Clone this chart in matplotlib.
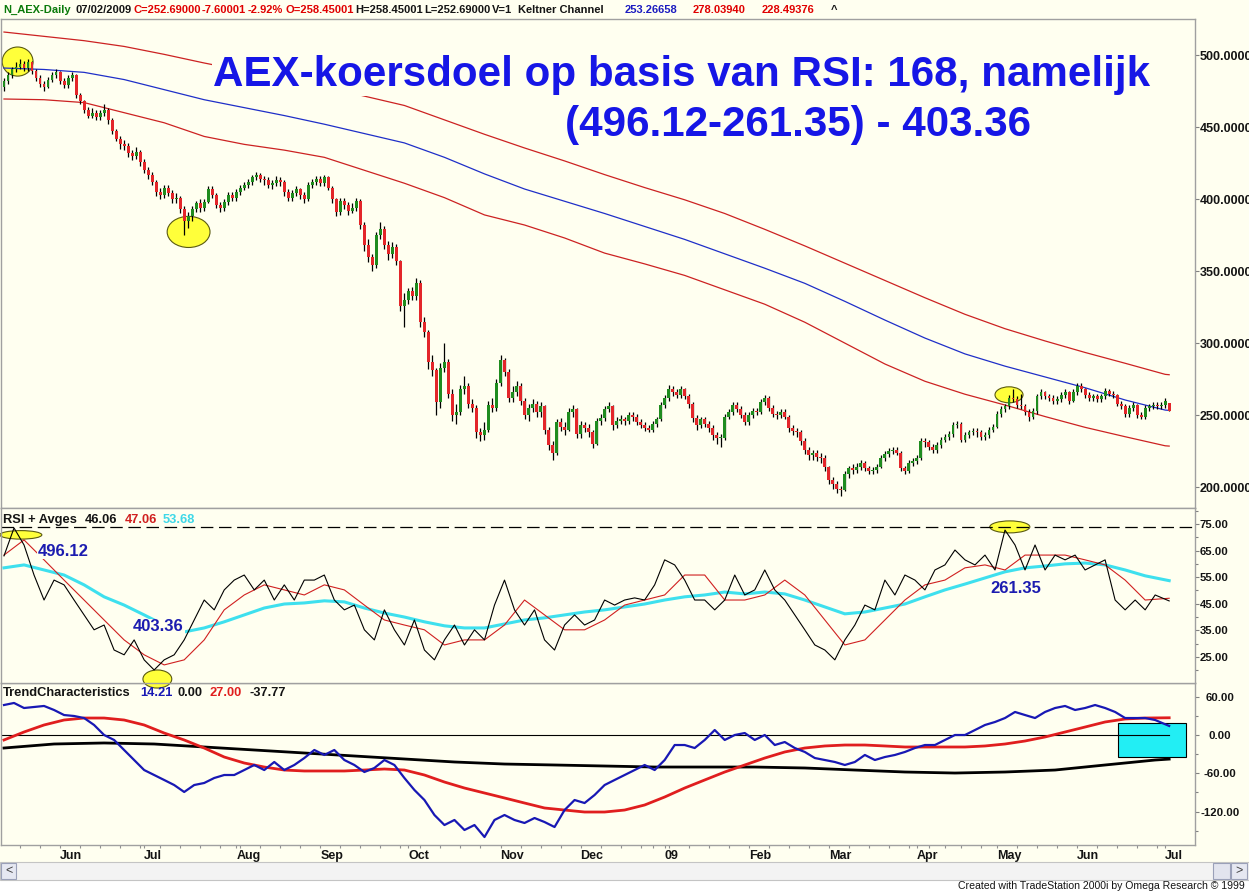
import numpy as np
import pandas as pd
import matplotlib
matplotlib.use("Agg")
import matplotlib.pyplot as plt
from matplotlib.patches import Ellipse, Rectangle

ARIAL = ["Liberation Sans", "DejaVu Sans"]
plt.rcParams["font.family"] = ARIAL
plt.rcParams["font.weight"] = "bold"

# ---------------- data ----------------
holidays = ["2008-12-25", "2008-12-26", "2009-01-01", "2009-04-10", "2009-04-13", "2009-05-01"]
month_labels = ["Jun", "Jul", "Aug", "Sep", "Oct", "Nov", "Dec", "09", "Feb", "Mar", "Apr", "May", "Jun", "Jul"]

opens = [478,482,486,490,492,494,491,495,489,484,
480,478,483,486,488,482,479,484,486,472,
468,462,458,460,457,460,462,455,447,442,
438,437,432,430,433,426,420,417,412,405,
403,408,404,400,401,393,385,388,393,397,
394,398,407,403,396,394,398,403,401,405,
408,410,412,415,417,414,413,410,411,413,
412,405,401,404,407,403,400,410,412,414,
411,415,408,400,391,399,396,392,394,399,
382,368,360,354,375,379,368,362,367,357,
326,330,336,333,342,315,308,287,281,259,
283,287,265,250,252,268,270,258,255,238,
236,240,257,255,272,288,280,262,266,270,
260,250,255,258,252,256,240,229,224,245,
242,240,252,254,237,243,241,238,230,246,
248,254,256,243,246,247,246,250,249,245,
243,241,240,244,247,257,262,268,266,264,
268,263,258,248,243,247,244,241,236,234,
234,249,252,257,254,250,245,250,253,252,
259,262,255,251,250,252,249,241,239,238,
232,226,222,224,221,220,214,205,202,199,
198,209,213,212,214,217,213,211,212,214,
220,223,225,226,224,213,211,217,218,220,
232,231,228,226,229,233,235,237,243,244,
233,236,238,239,238,235,236,240,242,251,
254,256,262,261,257,256,252,249,253,263,
266,263,262,260,261,264,266,260,266,270,
268,264,262,263,261,263,267,265,264,258,
256,251,255,257,250,249,255,256,257,256,
257,258.45]

highs = [484,488,492,495,497,496,497,496,490,486,
482,485,488,490,489,484,486,488,487,474,
469,464,463,462,462,466,463,456,449,444,
441,439,434,436,434,428,422,419,413,408,
410,410,406,404,402,395,391,395,399,400,
400,409,409,404,398,400,405,405,407,410,
412,414,417,419,418,416,415,413,416,415,
413,407,406,409,408,405,412,414,416,416,
417,416,409,401,401,401,398,397,401,400,
384,372,362,377,384,381,371,370,369,358,
335,338,339,345,344,318,309,292,283,286,
300,289,268,258,271,277,272,261,257,241,
245,260,262,275,292,290,282,270,274,272,
262,258,261,260,259,257,242,232,247,248,
245,255,257,255,246,245,244,240,248,251,
256,259,257,249,250,249,252,252,251,247,
245,243,246,249,259,264,271,270,268,270,
269,265,259,250,249,249,246,243,238,237,
251,254,259,259,256,252,252,255,255,261,
264,263,257,253,254,254,250,243,241,240,
234,228,226,226,224,222,215,207,204,201,
211,215,216,217,219,218,215,214,216,222,
225,227,228,228,225,215,219,220,222,234,
234,233,230,231,235,237,239,245,246,245,
238,240,241,241,240,238,242,244,253,256,
258,264,268,263,265,258,254,255,265,268,
267,265,264,263,266,268,267,268,272,272,
269,266,265,265,265,269,268,267,265,260,
258,257,259,258,252,257,258,259,259,259,
262,258.45]

lows = [475,480,484,488,490,489,489,487,482,478,
475,477,481,484,480,477,477,482,470,466,
460,456,456,455,455,458,452,445,440,435,
434,429,427,428,423,418,414,410,402,400,
401,402,397,397,390,375,380,385,391,391,
392,397,401,394,391,392,396,399,399,403,
406,408,410,413,412,410,408,407,409,409,
402,399,399,402,400,397,399,408,410,409,
409,406,397,388,389,393,389,390,392,379,
364,356,350,352,372,365,358,359,354,322,
311,327,330,330,311,304,282,277,250,255,
280,262,246,244,250,265,255,252,234,232,
233,238,252,253,270,277,259,259,263,257,
247,246,252,249,249,237,226,219,222,239,
236,239,249,234,234,238,235,227,229,243,
246,252,240,241,244,243,244,246,243,241,
239,238,238,242,246,255,260,263,262,262,
261,255,245,240,241,242,238,233,230,228,
233,247,250,252,248,243,243,248,250,251,
257,253,249,247,248,247,238,236,235,229,
223,219,219,218,217,211,202,199,196,194,
197,206,209,210,212,211,209,209,210,213,
218,221,223,222,211,209,210,215,216,219,
228,226,224,224,227,231,233,235,241,231,
231,234,236,235,233,233,234,238,241,249,
252,254,259,255,254,250,246,247,251,261,
261,260,258,258,259,262,258,259,264,266,
262,260,260,259,259,261,263,262,256,254,
249,249,253,248,247,247,253,254,254,254,
255,252.69]

closes = [482,486,490,492,494,491,495,489,484,480,
478,483,486,488,482,479,484,486,472,468,
462,458,460,457,460,462,455,447,442,438,
437,432,430,433,426,420,417,412,405,403,
408,404,400,401,393,385,388,393,397,394,
398,407,403,396,394,398,403,401,405,408,
410,412,415,417,414,413,410,411,413,412,
405,401,404,407,403,400,410,412,414,411,
415,408,400,391,399,396,392,394,399,382,
368,360,354,375,379,368,362,367,357,326,
330,336,333,342,315,308,287,281,259,283,
287,265,250,252,268,270,258,255,238,236,
240,257,255,272,288,280,262,266,270,260,
250,255,258,252,256,240,229,224,245,242,
240,252,254,237,243,241,238,230,246,248,
254,256,243,246,247,246,250,249,245,243,
241,240,244,247,257,262,268,266,264,268,
263,258,248,243,247,244,241,236,234,234,
249,252,257,254,250,245,250,253,252,259,
262,255,251,250,252,249,241,239,238,232,
226,222,224,221,220,214,205,202,199,198,
209,213,212,214,217,213,211,212,214,220,
223,225,226,224,213,211,217,218,220,232,
231,228,226,229,233,235,237,243,244,233,
236,238,239,238,235,236,240,242,251,254,
256,262,261,257,256,252,249,253,263,266,
263,262,260,261,264,266,260,266,270,268,
264,262,263,261,263,267,265,264,258,256,
251,255,257,250,249,255,256,257,256,257,
260,252.69]

# Keltner channel, sampled every 10 bars (+ last bar)
kc_days = list(range(0, 300, 10)) + [291]
kc_mid = [491.0,490.0,488.0,483.0,476.0,469.0,463.5,458.0,452.0,445.5,439.0,429.0,417.5,407.0,398.5,
          390.0,381.0,372.0,362.0,352.0,341.5,329.0,316.0,303.5,292.5,284.0,276.5,269.0,260.5,253.5,253.27]
kc_up = [516.0,513.0,510.0,506.0,500.5,494.5,489.0,483.5,478.0,471.5,465.0,455.0,445.0,435.5,426.5,
         417.0,408.0,399.5,390.0,379.0,367.5,355.5,343.5,331.5,320.0,310.0,301.5,293.5,286.0,278.3,278.04]
kc_lo = [469.5,469.0,467.0,460.0,453.0,443.5,438.0,434.0,429.0,420.0,411.0,401.0,389.0,382.0,373.0,
         362.5,355.0,347.0,337.0,327.0,314.5,300.0,285.5,273.5,264.5,257.0,249.0,241.5,235.0,228.7,228.49]

# RSI (every 2.5 bars) and its averages (every 5 bars)
rsi_vals = [63,73.5,67.1,55.8,46.4,53.9,52.1,46.4,40.8,35.2,
37.0,27.6,25.8,31.4,23.9,20.1,23.9,25.8,31.4,38.9,
46.4,42.7,50.2,53.9,55.8,50.2,53.9,46.4,52.1,46.4,
53.9,53.9,55.8,46.4,42.7,44.5,35.2,31.4,42.7,35.2,
29.5,38.9,27.6,23.9,31.4,37.0,29.5,35.2,31.4,44.5,
53.9,42.7,37.0,42.7,31.4,27.6,37.0,40.8,37.0,38.9,
46.4,44.5,46.4,47.2,46.4,52.1,61.5,59.6,53.9,46.4,
46.4,42.7,46.4,55.8,48.3,50.2,57.7,50.2,46.4,40.8,
35.2,29.5,27.6,23.9,31.4,37.0,44.5,42.7,53.9,48.3,
55.8,53.9,50.2,57.7,59.6,65.2,61.5,59.6,63.3,57.7,
72.7,67.1,57.7,67.1,57.7,63.3,61.5,63.3,57.7,59.6,
61.5,46.4,42.7,46.4,42.7,48.3,46.06]
rsi_fast = [63.3,69.0,61.5,53.9,46.4,38.9,31.4,25.8,22.0,23.9,
31.4,42.7,48.3,52.1,50.2,48.3,52.1,50.2,44.5,38.9,
37.0,35.2,29.5,31.4,31.4,37.0,46.4,40.8,35.2,35.2,
38.9,44.5,46.4,48.3,55.8,55.8,46.4,46.4,48.3,53.9,
48.3,38.9,29.5,31.4,38.9,46.4,52.1,53.9,58.5,59.6,
57.7,63.3,63.3,63.3,61.5,59.6,53.9,46.4,47.06]
rsi_slow = [58.5,59.6,57.7,55.8,52.1,47.6,44.5,40.8,37.0,34.4,
35.9,38.2,40.8,43.4,44.9,45.3,46.1,45.7,43.4,41.5,
40.0,38.2,36.7,35.9,35.9,37.4,38.9,39.7,40.8,41.9,
42.7,43.8,44.9,46.4,47.6,48.3,49.4,48.7,49.4,48.7,
46.4,43.8,41.2,41.9,43.4,44.9,47.6,50.2,52.4,54.7,
57.0,58.5,59.2,60.0,60.3,59.6,57.7,55.5,53.68]
rsi_level = 73.8

# TrendCharacteristics
trend_blue = [47.0,50.2,42.3,43.9,45.5,39.2,31.3,29.8,26.6,15.7,
0.0,-7.8,-23.5,-39.2,-54.9,-62.7,-70.5,-78.4,-89.3,-78.4,
-75.2,-67.4,-62.7,-62.7,-54.9,-47.0,-54.9,-42.3,-54.9,-47.0,
-36.1,-23.5,-31.3,-23.5,-39.2,-47.0,-58.0,-51.7,-39.2,-47.0,
-67.4,-86.2,-101.9,-125.4,-141.1,-133.2,-148.9,-141.1,-159.9,-133.2,
-125.4,-133.2,-137.9,-130.1,-136.4,-144.2,-117.6,-101.9,-106.6,-94.0,
-78.4,-70.5,-62.7,-54.9,-47.0,-54.9,-39.2,-15.7,-15.7,-20.4,
-7.8,7.8,-7.8,0.0,3.1,-7.8,0.0,-15.7,-11.0,-20.4,
-26.6,-36.1,-39.2,-42.3,-47.0,-42.3,-31.3,-39.2,-34.5,-31.3,
-26.6,-20.4,-15.7,-15.7,-7.8,0.0,0.0,7.8,15.7,20.4,
26.6,36.1,31.3,26.6,36.1,42.3,45.5,39.2,42.3,47.0,
42.3,36.1,26.6,26.6,26.6,23.5,14.21]
trend_red = [-7.8,4.7,15.7,23.5,26.6,26.6,23.5,15.7,3.1,-7.8,
-20.4,-34.5,-43.9,-50.2,-54.9,-56.4,-56.4,-56.4,-54.9,-53.3,
-54.9,-62.7,-73.7,-83.1,-90.9,-98.7,-106.6,-114.4,-117.6,-120.7,
-120.7,-117.6,-109.7,-97.2,-83.1,-70.5,-58.0,-47.0,-36.1,-26.6,
-20.4,-17.2,-15.7,-15.7,-17.2,-18.8,-18.8,-18.8,-18.8,-17.2,
-14.1,-9.4,-3.1,4.7,12.5,20.4,25.1,26.6,27.0]
trend_black = [-20.4,-14.1,-12.5,-14.1,-18.8,-23.5,-28.2,-32.9,-37.6,-42.3,-45.5,-47.0,
               -48.6,-50.2,-50.2,-50.2,-51.7,-54.9,-58.0,-59.6,-58.0,-54.9,-47.0,-39.2,-37.77]

# annotations: (bar, value, width in bars, height in value units)
price_marks = [(3.4, 495.5, 7.7, 20.2), (46.1, 377.2, 10.7, 21.6), (251.0, 264.1, 7.0, 11.1)]
rsi_marks = [(4.2, 70.9, 10.5, 3.2), (38.3, 16.7, 7.2, 6.8), (251.2, 73.9, 10.0, 4.5)]
rsi_notes = [("496.12", 8.5, 64.8), ("403.36", 32.2, 36.3), ("261.35", 246.3, 50.9)]
box_zone = (278.2, -34.5, 17.0, 53.3)

title1 = "AEX-koersdoel op basis van RSI: 168, namelijk"
title2 = "(496.12-261.35) - 403.36"

# ---------------- figure ----------------
W, H = 1249, 892
BG = "#fffff0"
GREEN = "#1f8c1f"
RED = "#e3262a"
fig = plt.figure(figsize=(W / 100, H / 100), dpi=100)
fig.patch.set_facecolor("white")


def fbox(x0, y0, x1, y1):
    return [x0 / W, 1 - y1 / H, (x1 - x0) / W, (y1 - y0) / H]


def frect(x0, y0, x1, y1, **kw):
    fig.add_artist(Rectangle((x0 / W, 1 - y1 / H), (x1 - x0) / W, (y1 - y0) / H,
                             transform=fig.transFigure, **kw))


def ftext(x, y, s, **kw):
    kw.setdefault("va", "center")
    fig.text(x / W, 1 - y / H, s, **kw)


frect(0, 0, W, 862, fc=BG, ec="none", zorder=-5)

dates = pd.bdate_range("2008-05-13", "2009-07-02")
dates = dates[~dates.isin(pd.to_datetime(holidays))]
n = len(dates)
idx = np.arange(n)
XL = (-0.75, 297.45)

ax1 = fig.add_axes(fbox(1, 19, 1195, 508))
ax2 = fig.add_axes(fbox(1, 508, 1195, 683))
ax3 = fig.add_axes(fbox(1, 683, 1195, 845))
for ax in (ax1, ax2, ax3):
    ax.set_facecolor(BG)
    ax.set_xlim(*XL)
    for s in ax.spines.values():
        s.set_color("#a0a0a0")
        s.set_linewidth(1)
    ax.yaxis.tick_right()
    ax.tick_params(axis="y", which="both", direction="out", length=3, width=0.8,
                   color="#808080", pad=0.5, labelcolor="#141414")
    ax.tick_params(axis="x", which="both", bottom=False, labelbottom=False)

# --- price panel ---
o = np.array(opens, float)
c = np.array(closes, float)
hi = np.array(highs, float)
lo = np.array(lows, float)
up = c >= o
ax1.vlines(idx, lo, hi, color="black", lw=0.9, zorder=3)
blo = np.minimum(o, c)
bh = np.maximum(np.abs(c - o), 0.6)
ax1.bar(idx[up], bh[up], 0.72, bottom=blo[up], color=GREEN, lw=0, zorder=4)
ax1.bar(idx[~up], bh[~up], 0.72, bottom=blo[~up], color=RED, lw=0, zorder=4)
ax1.plot(kc_days, kc_up, color="#cc2222", lw=0.9, zorder=2)
ax1.plot(kc_days, kc_lo, color="#cc2222", lw=0.9, zorder=2)
ax1.plot(kc_days, kc_mid, color="#1f2fc8", lw=0.9, zorder=2)
for (bx, by, bw, bhh) in price_marks:
    ax1.add_patch(Ellipse((bx, by), bw, bhh, fc="#ffff3a", ec="#5a5a10", lw=0.8, zorder=1))
ax1.set_ylim(185.5, 525.05)
ax1.set_yticks(np.arange(200, 501, 50))
ax1.yaxis.set_major_formatter(matplotlib.ticker.FormatStrFormatter("%.4f"))
ax1.tick_params(axis="y", labelsize=9)

# --- RSI panel ---
rsi_days = list(np.arange(len(rsi_vals) - 1) * 2.5) + [291]
avg_days = list(np.arange(len(rsi_fast) - 1) * 5) + [291]
for (bx, by, bw, bhh) in rsi_marks:
    ax2.add_patch(Ellipse((bx, by), bw, bhh, fc="#ffff3a", ec="#5a5a10", lw=0.8, zorder=1,
                          clip_on=False))
ax2.axhline(rsi_level, color="black", lw=0.9, dashes=(10, 4.5), zorder=2)
ax2.plot(avg_days, rsi_slow, color="#3ee0ee", lw=2.2, zorder=3)
ax2.plot(avg_days, rsi_fast, color="#d02020", lw=0.8, zorder=4)
ax2.plot(rsi_days, rsi_vals, color="black", lw=0.8, zorder=5)
for (s, bx, by) in rsi_notes:
    ax2.text(bx, by, s, color="#1c1cb0", fontsize=12, ha="left", va="center", zorder=6,
             bbox=dict(boxstyle="square,pad=0.05", fc=BG, ec="none"))
ax2.set_ylim(15.2, 81.0)
ax2.set_yticks(np.arange(25, 76, 10))
ax2.set_yticks(np.arange(20, 81, 10), minor=True)
ax2.yaxis.set_major_formatter(matplotlib.ticker.FormatStrFormatter("%.2f"))
ax2.tick_params(axis="y", which="minor", length=2)
ax2.tick_params(axis="y", labelsize=8.2)
ax2.set_zorder(3)

# --- Trend panel ---
tb_days = list(np.arange(len(trend_blue) - 1) * 2.5) + [291]
tr_days = list(np.arange(len(trend_red) - 1) * 5) + [291]
tk_days = list(np.arange(len(trend_black) - 1) * 12.5) + [291]
bx0, by0, bw0, bh0 = box_zone
ax3.add_patch(Rectangle((bx0, by0), bw0, bh0, fc="#22eef4", ec="black", lw=0.8, zorder=1))
ax3.plot([-0.75, 291], [0, 0], color="black", lw=0.8, zorder=2)
ax3.plot(tk_days, trend_black, color="black", lw=2.0, zorder=3)
ax3.plot(tr_days, trend_red, color="#e01e1e", lw=2.0, zorder=4)
ax3.plot(tb_days, trend_blue, color="#1818b4", lw=1.6, zorder=5)
ax3.set_ylim(-172.4, 81.5)
ax3.set_yticks([-120, -60, 0, 60])
ax3.set_yticks([-150, -90, -30, 30], minor=True)
ax3.yaxis.set_major_formatter(matplotlib.ticker.FormatStrFormatter("%.2f"))
ax3.tick_params(axis="y", which="minor", length=2)
ax3.tick_params(axis="y", which="major", labelsize=8.2, pad=15)
for lbl in ax3.get_yticklabels():
    lbl.set_horizontalalignment("center")

month_idx = [i for i in range(1, n) if dates[i].month != dates[i - 1].month]
week_idx = [i for i in range(1, n) if dates[i].weekday() < dates[i - 1].weekday()]
ax3.set_xticks(month_idx)
ax3.set_xticklabels(month_labels, ha="left", fontsize=9)
ax3.set_xticks(week_idx, minor=True)
ax3.tick_params(axis="x", which="both", bottom=True, labelbottom=True, direction="out",
                length=2.5, width=0.8, color="#909090", pad=0.8, labelcolor="#141414")

# --- titles / headers ---
tkw = dict(fontsize=30.3, color="#1616e6", va="baseline",
           bbox=dict(boxstyle="square,pad=0.02", fc=BG, ec="none"), zorder=10)
ftext(213, 86, title1, **tkw)
ftext(565, 136, title2, **tkw)

head = [("N_AEX-Daily", 3, "#0a7a0a"), ("07/02/2009", 75, "#141414"), ("C=252.69000", 133, "#e00000"),
        ("-7.60001", 202, "#e00000"), ("-2.92%", 248, "#e00000"), ("O=258.45001", 286, "#e00000"),
        ("H=258.45001", 355, "#141414"), ("L=252.69000", 424, "#141414"), ("V=1", 492, "#141414"),
        ("Keltner Channel", 518, "#141414"), ("253.26658", 625, "#1c1cc0"), ("278.03940", 693, "#e00000"),
        ("228.49376", 762, "#e00000"), ("^", 831, "#141414")]
for s, x, col in head:
    ftext(x, 10, s, color=col, fontsize=8)

rsi_head = [("RSI + Avges", 3, "#141414"), ("46.06", 85, "#141414"), ("47.06", 125, "#d02020"),
            ("53.68", 163, "#3ed8e8")]
for s, x, col in rsi_head:
    ftext(x, 520, s, color=col, fontsize=9.3, zorder=10)
trend_head = [("TrendCharacteristics", 3, "#141414"), ("14.21", 140, "#1818b4"), ("0.00", 178, "#141414"),
              ("27.00", 210, "#e01e1e"), ("-37.77", 250, "#141414")]
for s, x, col in trend_head:
    ftext(x, 693, s, color=col, fontsize=9.3, zorder=10)

# --- scrollbar and footer ---
frect(0, 862, W, 880, fc="#f3f3f3", ec="#c4c4c4", lw=0.8, zorder=1)
frect(1, 863, 16, 879, fc="#e6e8f2", ec="#9aa0b8", lw=0.8, zorder=2)
frect(1231, 863, 1247, 879, fc="#e6e8f2", ec="#9aa0b8", lw=0.8, zorder=2)
frect(1213, 863, 1230, 879, fc="#e2e4ee", ec="#9aa0b8", lw=0.8, zorder=2)
ftext(8.5, 871, "<", ha="center", fontsize=9, color="#404040", weight="normal")
ftext(1239, 871, ">", ha="center", fontsize=9, color="#404040", weight="normal")
ftext(1245, 886, "Created with TradeStation 2000i by Omega Research \u00a9 1999", ha="right",
      fontsize=7.6, weight="normal", color="#141414")

fig.savefig("out.png", dpi=100, facecolor="white")
